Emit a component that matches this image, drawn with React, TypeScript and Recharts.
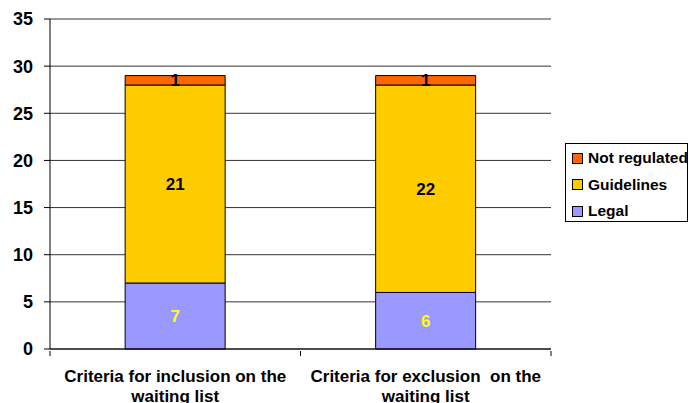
import {
  BarChart,
  Bar,
  XAxis,
  YAxis,
  CartesianGrid,
  LabelList,
  ReferenceLine,
} from 'recharts';

const categories = [
  'Criteria for inclusion on the\nwaiting list',
  'Criteria for exclusion  on the\nwaiting list',
];
const legal = [7, 6];
const guidelines = [21, 22];
const notRegulated = [1, 1];
const yTicks = [0, 5, 10, 15, 20, 25, 30, 35];

const series = [
  { key: 'legal', name: 'Legal', color: '#9999FF', label: '#FFFF00' },
  { key: 'guidelines', name: 'Guidelines', color: '#FFCC00', label: '#000000' },
  { key: 'notRegulated', name: 'Not regulated', color: '#FF6600', label: '#000000' },
];

const data = categories.map((name, i) => ({
  name,
  legal: legal[i],
  guidelines: guidelines[i],
  notRegulated: notRegulated[i],
}));

const W = 689;
const H = 403;
const MARGIN = { top: 19, right: 138, bottom: 0, left: 0 };
const Y_WIDTH = 50;
const PLOT_W = W - MARGIN.left - MARGIN.right - Y_WIDTH;
const BAND = PLOT_W / categories.length;
const FONT = '"Liberation Sans", Arial, sans-serif';

function CategoryTick(props: any) {
  const { x, y, payload, index } = props;
  const lines = String(payload.value).split('\n');
  const half = BAND / 2;
  return (
    <g>
      <line x1={x - half} x2={x - half} y1={y} y2={y + 5} stroke="#000" />
      {index === categories.length - 1 && (
        <line x1={x + half} x2={x + half} y1={y} y2={y + 5} stroke="#000" />
      )}
      <text
        x={x}
        y={y + 31}
        textAnchor="middle"
        fontFamily={FONT}
        fontWeight="bold"
        fontSize={17}
        fill="#000"
        style={{ whiteSpace: 'pre' }}
      >
        {lines.map((l, i) => (
          <tspan key={i} x={x} dy={i === 0 ? 0 : 20}>
            {l}
          </tspan>
        ))}
      </text>
    </g>
  );
}

export default function App() {
  return (
    <div style={{ position: 'absolute', left: 0, top: 0, width: W, height: H, background: '#fff' }}>
      <BarChart width={W} height={H} data={data} margin={MARGIN} barCategoryGap="30%">
        <CartesianGrid vertical={false} stroke="#333" />
        <ReferenceLine y={35} stroke="#999" />
        <XAxis
          dataKey="name"
          axisLine={{ stroke: '#000' }}
          tickLine={false}
          tickSize={0}
          height={54}
          interval={0}
          tick={<CategoryTick />}
        />
        <YAxis
          domain={[0, 35]}
          ticks={yTicks}
          width={Y_WIDTH}
          axisLine={{ stroke: '#000' }}
          tickLine={{ stroke: '#000' }}
          tickSize={6}
          tickMargin={11}
          tick={{ fill: '#000', fontSize: 18, fontWeight: 'bold', fontFamily: FONT }}
        />
        <YAxis
          yAxisId="r"
          orientation="right"
          domain={[0, 35]}
          width={0}
          tick={false}
          tickLine={false}
          axisLine={{ stroke: '#999' }}
        />
        {series.map((s) => (
          <Bar
            key={s.key}
            dataKey={s.key}
            name={s.name}
            stackId="a"
            fill={s.color}
            stroke="#000"
            strokeWidth={1}
            isAnimationActive={false}
          >
            <LabelList
              dataKey={s.key}
              position="center"
              fill={s.label}
              fontSize={17}
              fontWeight="bold"
              fontFamily={FONT}
            />
          </Bar>
        ))}
      </BarChart>
      <div
        style={{
          position: 'absolute',
          left: 565,
          top: 143,
          width: 123,
          height: 79,
          border: '1px solid #000',
          boxSizing: 'border-box',
          fontFamily: FONT,
          fontWeight: 'bold',
          fontSize: 15.5,
          color: '#000',
          background: '#fff',
        }}
      >
        {[...series].reverse().map((s, i) => (
          <div
            key={s.key}
            style={{ position: 'absolute', left: 6, top: 5 + i * 26.5, display: 'flex', alignItems: 'center', whiteSpace: 'nowrap' }}
          >
            <span
              style={{
                display: 'inline-block',
                width: 9,
                height: 9,
                background: s.color,
                border: '1px solid #000',
                marginRight: 5,
              }}
            />
            <span>{s.name}</span>
          </div>
        ))}
      </div>
    </div>
  );
}
